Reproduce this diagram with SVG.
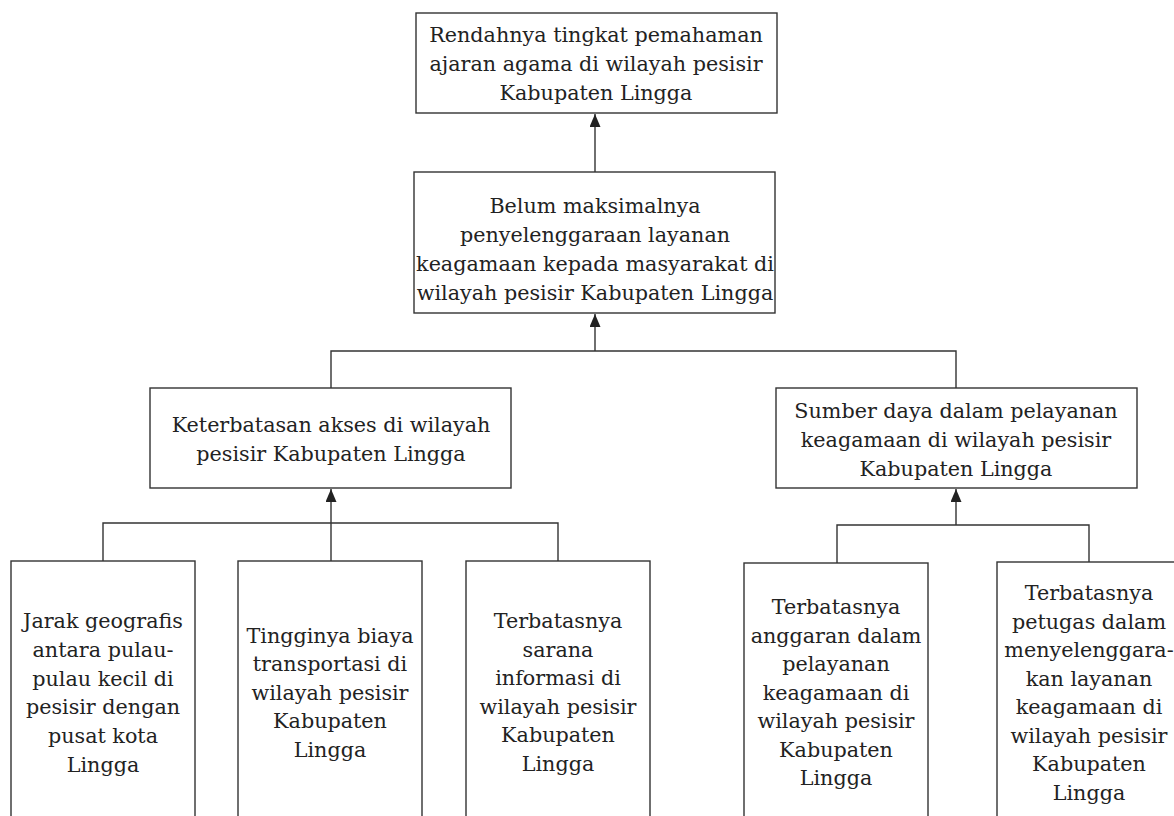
<svg xmlns="http://www.w3.org/2000/svg" width="1174" height="816" viewBox="0 0 1174 816">
<style>
.box{fill:#fff;stroke:#333;stroke-width:1.4}
.t{font-family:"DejaVu Serif","Liberation Serif",serif;font-size:20.7px;fill:#222;text-anchor:middle}
.c{fill:none;stroke:#333;stroke-width:1.4}
</style>
<defs>
<marker id="ah" viewBox="0 0 13 11" refX="13" refY="5.5" markerWidth="13" markerHeight="11" markerUnits="userSpaceOnUse" orient="auto">
<path d="M0,0 L13,5.5 L0,11 z" fill="#222"/>
</marker>
</defs>
<rect width="1174" height="816" fill="#fff"/>
<g id="connectors">
<path class="c" d="M595,172 V114" marker-end="url(#ah)"/>
<path class="c" d="M595,351 V314" marker-end="url(#ah)"/>
<path class="c" d="M331,388 V351 H956 V388"/>
<path class="c" d="M331,561 V523 M103,561 V523 H558 V561 M331,523 V489" marker-end="url(#ah)"/>
<path class="c" d="M837,563 V525 H1089 V562 M956,525 V489" marker-end="url(#ah)"/>
</g>
<g id="n1"><rect class="box" x="416" y="13" width="361" height="100"/>
<text class="t" x="596" y="42">Rendahnya tingkat pemahaman</text>
<text class="t" x="596" y="71">ajaran agama di wilayah pesisir</text>
<text class="t" x="596" y="100">Kabupaten Lingga</text></g>
<g id="n2"><rect class="box" x="414" y="172" width="361" height="141"/>
<text class="t" x="595" y="213">Belum maksimalnya</text>
<text class="t" x="595" y="242">penyelenggaraan layanan</text>
<text class="t" x="595" y="271">keagamaan kepada masyarakat di</text>
<text class="t" x="595" y="300">wilayah pesisir Kabupaten Lingga</text></g>
<g id="n3"><rect class="box" x="150" y="388" width="361" height="100"/>
<text class="t" x="331" y="432">Keterbatasan akses di wilayah</text>
<text class="t" x="331" y="461">pesisir Kabupaten Lingga</text></g>
<g id="n4"><rect class="box" x="776" y="388" width="361" height="100"/>
<text class="t" x="956" y="418">Sumber daya dalam pelayanan</text>
<text class="t" x="956" y="447">keagamaan di wilayah pesisir</text>
<text class="t" x="956" y="476">Kabupaten Lingga</text></g>
<g id="n5"><rect class="box" x="11" y="561" width="184" height="270"/>
<text class="t" x="103" y="628">Jarak geografis</text>
<text class="t" x="103" y="657">antara pulau-</text>
<text class="t" x="103" y="686">pulau kecil di</text>
<text class="t" x="103" y="714">pesisir dengan</text>
<text class="t" x="103" y="743">pusat kota</text>
<text class="t" x="103" y="772">Lingga</text></g>
<g id="n6"><rect class="box" x="238" y="561" width="184" height="270"/>
<text class="t" x="330" y="643">Tingginya biaya</text>
<text class="t" x="330" y="671">transportasi di</text>
<text class="t" x="330" y="700">wilayah pesisir</text>
<text class="t" x="330" y="728">Kabupaten</text>
<text class="t" x="330" y="757">Lingga</text></g>
<g id="n7"><rect class="box" x="466" y="561" width="184" height="270"/>
<text class="t" x="558" y="628">Terbatasnya</text>
<text class="t" x="558" y="657">sarana</text>
<text class="t" x="558" y="685">informasi di</text>
<text class="t" x="558" y="714">wilayah pesisir</text>
<text class="t" x="558" y="742">Kabupaten</text>
<text class="t" x="558" y="771">Lingga</text></g>
<g id="n8"><rect class="box" x="744" y="563" width="184" height="270"/>
<text class="t" x="836" y="614">Terbatasnya</text>
<text class="t" x="836" y="643">anggaran dalam</text>
<text class="t" x="836" y="671">pelayanan</text>
<text class="t" x="836" y="700">keagamaan di</text>
<text class="t" x="836" y="728">wilayah pesisir</text>
<text class="t" x="836" y="757">Kabupaten</text>
<text class="t" x="836" y="785">Lingga</text></g>
<g id="n9"><rect class="box" x="997" y="562" width="184" height="270"/>
<text class="t" x="1089" y="600">Terbatasnya</text>
<text class="t" x="1089" y="629">petugas dalam</text>
<text class="t" x="1089" y="657">menyelenggara-</text>
<text class="t" x="1089" y="686">kan layanan</text>
<text class="t" x="1089" y="714">keagamaan di</text>
<text class="t" x="1089" y="743">wilayah pesisir</text>
<text class="t" x="1089" y="771">Kabupaten</text>
<text class="t" x="1089" y="800">Lingga</text></g>
</svg>
